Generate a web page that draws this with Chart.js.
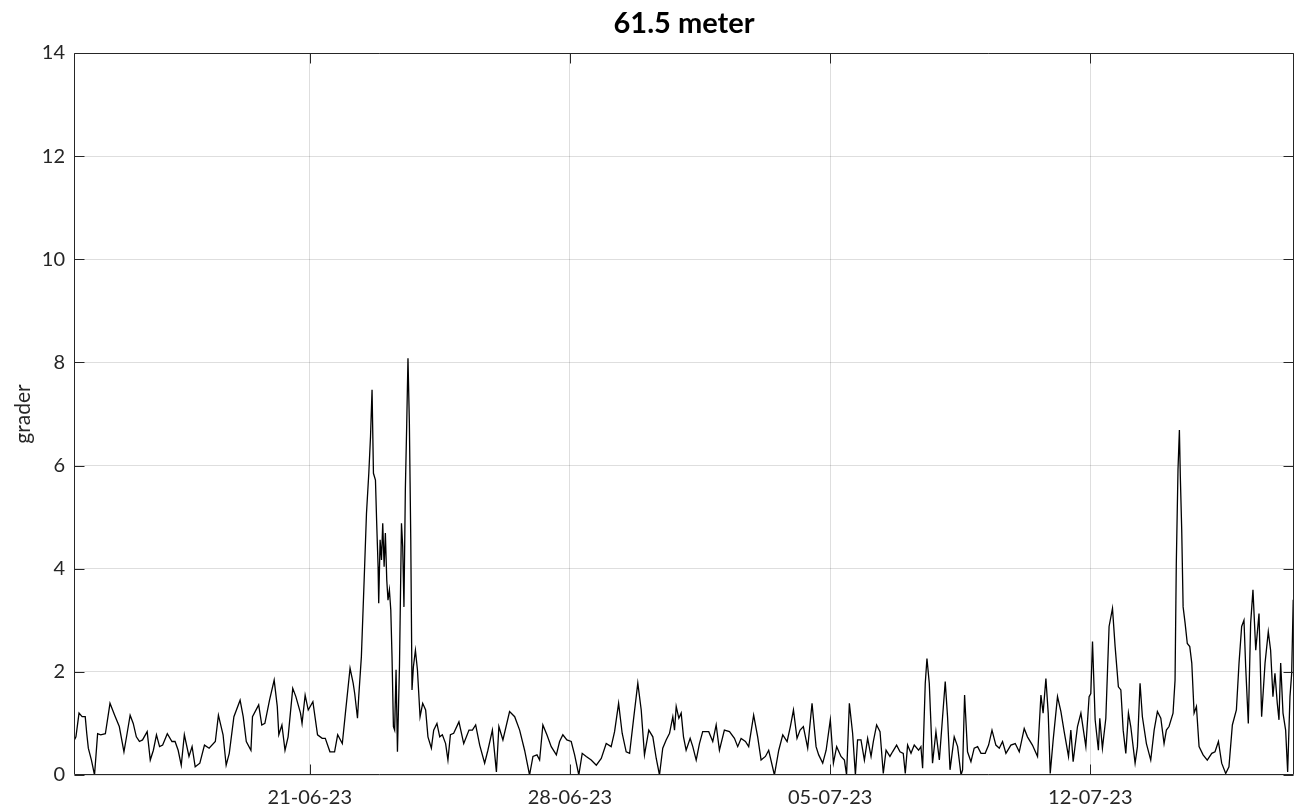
<!DOCTYPE html>
<html>
<head>
<meta charset="utf-8">
<title>61.5 meter</title>
<script src="https://cdn.jsdelivr.net/npm/chart.js@4/dist/chart.umd.min.js"></script>
<style>
  html, body { margin: 0; padding: 0; background: #ffffff; }
  #wrap { width: 1295px; height: 811px; }
</style>
</head>
<body>
<div id="wrap"><canvas id="c" width="1295" height="811"></canvas></div>
<script>
// Hours since 14-06-23 00:00 for each sample
const hours = [
  16,17,19,21,23,24,25,27,29,31,
  33,36,39,42,45,48,50,52,54,56,
  58,60,63,65,67,69,71,73,76,79,
  81,83,85,87,90,92,94,97,100,103,
  107,109,112,114,116,119,123,125,127,130,
  131,135,137,139,142,145,147,148,150,152,
  154,157,159,162,163,165,167,170,173,176,
  178,181,184,186,189,191,194,196,197,198.8,
  199.6,201.3,203.1,204.6,206.1,207.2,208.2,209.1,210.4,211.2,
  212.1,212.5,213.4,214.3,215.1,216,216.8,217.7,218.5,219.4,
  220.3,221.1,222,222.8,223.7,224.6,225.9,227.2,228,228.8,
  229.7,230.6,231.4,232.3,233.2,234,234.9,236.2,237.5,239.2,
  240.9,242.8,244.3,246.5,248,250.1,251.9,253.6,255.7,257.2,258.8,
  260.9,264.3,267.4,270.8,273,275.1,277.7,280.9,283,285.9,
  288.5,290.1,292.7,297,300.3,303.5,306.7,309.9,312.1,314.7,
  316.4,318.5,321.1,323.9,327.2,329.3,331.4,334,336.8,339,
  341.7,343.9,346.5,349.7,353,356.2,359.4,362.6,364.8,367.4,
  369.7,372.3,374.5,377,379.8,382,384.1,386.9,389.5,391.7,
  393.8,395.9,398.1,400.3,402.4,403.5,404.6,406.3,407.8,409.3,
  411,413.6,415.3,417.5,419.6,421.7,425.6,428.2,430.4,432.5,
  435.7,439,442.2,444.3,446.5,449.3,451.4,454.6,457.2,459.4,
  462.2,464.3,468,470.8,473.4,476.2,478.3,480.3,482.6,484.6,
  486.7,489.5,492.3,494.9,496.6,499.2,501.4,504.1,506.1,508.2,
  511,513.2,514.6,516.4,518.5,520.3,521.7,523.9,526.1,528.2,
  530.4,531.9,534,536.2,538.3,540.1,542.6,544.3,546.9,549.1,
  551.2,552.5,554,556.2,558.3,561.1,562.6,563.7,565.4,566.5,
  568,570.1,572.3,574.5,576.6,578.3,579.8,581.4,584.1,586.3,
  588.5,589.5,590.8,592.7,594.9,597,599.2,601.4,604.1,606.3,
  608.5,611,613.2,615.3,617.5,620.7,623.5,626.1,629.3,631.4,
  634.6,637.9,640.1,641.5,643.3,644.8,646.1,648,650.8,653,
  655.1,657.9,659.4,660.9,663.7,665.9,669.1,671.2,672.3,673.4,
  675.1,677.2,678.1,679.8,682,684.1,686.3,688,690.1,691.7,
  693.2,694.9,696.6,698.1,700.9,702.4,704.1,705.6,708.2,711,
  713.2,715.3,717.5,719.6,721.1,722.8,725.4,726.7,727.5,728.6,
  729.5,730.1,731,731.9,733.2,734.6,736.2,737.5,739,740.5,
  742.2,744.8,747.5,750.4,752.5,754.7,756.8,759.4,761.5,763.7,
  766.3,768,769.7,771.2,772.3,774,775.5,777,778.8,780.9,
  782.6,784.8,786.9,788.4,789.9,791.2,792.7,793.8,794.9,796.4,
  798.1,799.4,800.9,802,803
];

// Angle in degrees ("grader") at each sample
const degrees = [
  0.68,0.74,1.2,1.13,1.13,0.8,0.52,0.29,0,0.8,
  0.78,0.8,1.39,1.16,0.94,0.45,0.8,1.16,1.0,0.74,
  0.65,0.68,0.84,0.29,0.48,0.78,0.55,0.58,0.8,0.65,
  0.65,0.48,0.19,0.78,0.36,0.55,0.16,0.23,0.58,0.52,
  0.65,1.16,0.78,0.19,0.42,1.13,1.45,1.13,0.65,0.48,
  1.13,1.36,0.97,1.0,1.45,1.84,1.33,0.78,0.97,0.48,
  0.74,1.68,1.52,1.2,1.0,1.55,1.26,1.42,0.78,0.71,
  0.71,0.45,0.45,0.78,0.61,1.2,2.07,1.78,1.58,1.1,
  1.52,2.29,3.78,5.07,5.85,6.56,7.47,5.85,5.72,4.88,
  4.04,3.33,4.56,4.17,4.88,4.04,4.69,3.78,3.39,3.59,
  3.2,2.29,0.94,0.87,2.04,0.45,2.1,4.88,4.43,3.26,
  5.53,6.82,8.08,6.82,4.56,1.65,2.1,2.42,2.04,1.13,
  1.39,1.26,0.74,0.52,0.87,1.0,0.74,0.78,0.61,0.29,0.78,
  0.81,1.03,0.61,0.87,0.87,0.97,0.58,0.23,0.48,0.87,
  0.06,0.94,0.68,1.23,1.13,0.87,0.48,0,0.36,0.39,
  0.29,0.97,0.78,0.55,0.39,0.65,0.78,0.68,0.65,0.39,
  0,0.42,0.36,0.29,0.19,0.32,0.61,0.55,0.84,1.39,
  0.81,0.45,0.42,1.07,1.78,1.26,0.39,0.87,0.74,0.32,
  0,0.52,0.68,0.81,1.13,0.87,1.33,1.1,1.2,0.74,
  0.48,0.71,0.55,0.29,0.61,0.84,0.84,0.65,0.97,0.48,
  0.87,0.84,0.71,0.55,0.71,0.65,0.55,1.16,0.74,0.29,
  0.36,0.48,0,0.48,0.78,0.65,0.94,1.26,0.71,0.87,
  0.94,0.52,1.39,0.55,0.39,0.23,0.48,1.07,0.23,0.55,
  0.36,0.29,0,1.39,0.81,0,0.68,0.68,0.29,0.71,
  0.36,0.65,0.97,0.84,0.03,0.48,0.36,0.45,0.58,0.45,
  0.42,0.03,0.58,0.42,0.58,0.48,0.55,0.13,1.78,2.26,
  1.78,0.23,0.84,0.29,1.13,1.81,1.13,0.1,0.74,0.55,
  0,0.1,1.55,0.45,0.26,0.52,0.55,0.42,0.42,0.58,
  0.87,0.58,0.52,0.65,0.42,0.58,0.61,0.45,0.9,0.74,
  0.58,0.36,1.55,1.2,1.87,1.2,0.03,0.68,1.52,1.23,
  0.84,0.36,0.87,0.26,0.94,1.2,0.55,1.52,1.58,2.59,
  1.07,0.48,1.1,0.52,1.1,2.88,3.23,2.49,1.71,1.65,
  0.87,0.42,1.2,0.94,0.23,0.55,1.78,1.13,0.61,0.29,
  0.87,1.23,1.1,0.61,0.87,0.94,1.2,1.84,4.1,5.92,
  6.69,5.79,4.75,3.26,2.94,2.55,2.49,2.17,1.2,1.33,
  0.55,0.39,0.29,0.42,0.45,0.65,0.23,0.03,0.16,0.97,
  1.26,2.17,2.88,3.0,2.1,1.0,2.94,3.59,2.42,3.13,
  1.13,2.17,2.78,2.42,1.52,1.97,1.39,1.07,2.17,1.2,
  0.87,0.06,1.52,1.97,3.4
];

// Axis ticks: date labels at midnight of each week, angle ticks every 2 degrees
const tickHours = [168, 336, 504, 672];
const tickLabels = ['21-06-23', '28-06-23', '05-07-23', '12-07-23'];
const yTickValues = [0, 2, 4, 6, 8, 10, 12, 14];

const chartTitle = '61.5 meter';
const yAxisTitle = 'grader';

const FONT = 'Lato, "Open Sans", "Noto Sans", sans-serif';
const INK = '#262626';

// Frame around the plot with MATLAB-style inward tick marks on all four sides
const framePlugin = {
  id: 'frame',
  afterDatasetsDraw(chart) {
    const { ctx, chartArea: a, scales: { x, y } } = chart;
    const L = Math.round(a.left) + 0.5;
    const R = Math.round(a.right) - 0.5;
    const T = Math.round(a.top) + 0.5;
    const B = Math.round(a.bottom) - 0.5;
    const len = 10;
    ctx.save();
    ctx.strokeStyle = INK;
    ctx.lineWidth = 1;
    ctx.beginPath();
    ctx.rect(L, T, R - L, B - T);
    for (const v of yTickValues) {
      const py = Math.round(y.getPixelForValue(v)) + 0.5;
      ctx.moveTo(L, py); ctx.lineTo(L + len, py);
      ctx.moveTo(R, py); ctx.lineTo(R - len, py);
    }
    for (const h of tickHours) {
      const px = Math.round(x.getPixelForValue(h)) + 0.5;
      ctx.moveTo(px, B); ctx.lineTo(px, B - len);
      ctx.moveTo(px, T); ctx.lineTo(px, T + len);
    }
    ctx.stroke();
    ctx.restore();
  }
};

// Bold heading centred over the plot area
const headingPlugin = {
  id: 'heading',
  afterDraw(chart) {
    const { ctx, chartArea: a } = chart;
    ctx.save();
    ctx.font = 'bold 29px ' + FONT;
    ctx.fillStyle = '#000000';
    ctx.textAlign = 'center';
    ctx.textBaseline = 'alphabetic';
    ctx.fillText(chartTitle, (a.left + a.right) / 2, 33);
    ctx.restore();
  }
};

new Chart(document.getElementById('c'), {
  type: 'line',
  data: {
    datasets: [{
      data: hours.map((h, i) => ({ x: h, y: degrees[i] })),
      borderColor: '#000000',
      borderWidth: 1.3,
      pointRadius: 0,
      tension: 0,
      fill: false
    }]
  },
  options: {
    responsive: false,
    animation: false,
    devicePixelRatio: 1,
    layout: { padding: { top: 53, right: 1, left: 0, bottom: 0 } },
    plugins: {
      legend: { display: false },
      title: { display: false },
      tooltip: { enabled: false }
    },
    scales: {
      x: {
        type: 'linear',
        min: 15.75,
        max: 803.5,
        afterBuildTicks(scale) {
          scale.ticks = tickHours.map(v => ({ value: v }));
        },
        afterFit(scale) { scale.height = 36; },
        border: { display: false },
        grid: { color: 'rgba(0,0,0,0.13)', lineWidth: 1, drawTicks: false },
        ticks: {
          autoSkip: false,
          maxRotation: 0,
          padding: 11,
          color: INK,
          font: { family: FONT, size: 20 },
          callback(value) {
            const i = tickHours.indexOf(value);
            return i >= 0 ? tickLabels[i] : '';
          }
        }
      },
      y: {
        min: 0,
        max: 14,
        afterBuildTicks(scale) {
          scale.ticks = yTickValues.map(v => ({ value: v }));
        },
        afterFit(scale) { scale.width = 74; },
        border: { display: false },
        grid: { color: 'rgba(0,0,0,0.13)', lineWidth: 1, drawTicks: false },
        ticks: {
          padding: 9,
          color: INK,
          font: { family: FONT, size: 20 }
        },
        title: {
          display: true,
          text: yAxisTitle,
          color: INK,
          font: { family: FONT, size: 21 },
          padding: { top: 11, bottom: 0 }
        }
      }
    }
  },
  plugins: [framePlugin, headingPlugin]
});
</script>
</body>
</html>
